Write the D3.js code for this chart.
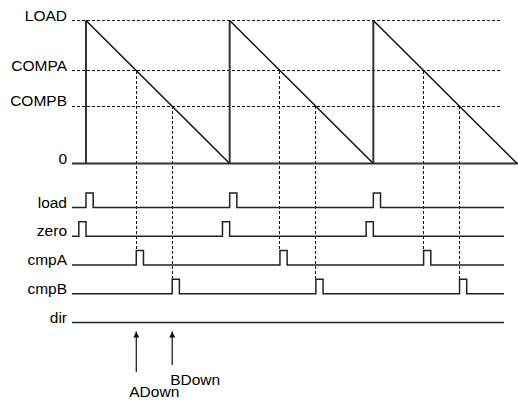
<!DOCTYPE html>
<html lang="en">
<head>
<meta charset="UTF-8">
<title>PWM counter timing</title>
<style>
  body { margin: 0; background: #fff; }
  text { font-family: "Liberation Sans", Arial, sans-serif; font-size: 15.5px; fill: #000; }
  .crisp { shape-rendering: crispEdges; }
</style>
</head>
<body>
<svg id="chart" width="518" height="402"></svg>
<script src="https://cdnjs.cloudflare.com/ajax/libs/d3/7.9.0/d3.min.js"></script>
<script>
// counter levels
const levelNames = ["LOAD", "COMPA", "COMPB", "0"];
const levelValues = [100, 65, 40, 0];

// counter period starts (counter reloads to LOAD, counts down to 0)
const periodStarts = [0, 1, 2];
const periodEnd = 3;

// event signals and when their pulses happen
const signalNames = ["load", "zero", "cmpA", "cmpB", "dir"];
const loadPulses = [0, 1, 2];
const zeroPulses = [0, 1, 2];
const cmpAPulses = [0.35, 1.35, 2.35];
const cmpBPulses = [0.6, 1.6, 2.6];
const dirPulses = [];

// annotations
const arrowNames = ["ADown", "BDown"];
const arrowTimes = [0.35, 0.6];

const svg = d3.select('#chart');

const x = d3.scaleLinear().domain([0, periodEnd]).range([86, 517]);
const y = d3.scaleLinear().domain([0, 100]).range([163.5, 20.5]);
const sy = d3.scalePoint().domain(signalNames).range([207.5, 322.5]);
const pulseW = 0.05;   // pulse length in periods
const pulseH = 14.5;

const valueAt = t => 100 * (1 - (t - Math.floor(t)));

// dashed level lines
levelNames.forEach((name, i) => {
    const v = levelValues[i];
    svg.append('text')
        .attr('x', 67).attr('y', y(v))
        .attr('text-anchor', 'end')
        .text(name);
    if (v > 0) {
        svg.append('line')
            .attr('class', 'crisp')
            .attr('x1', 72).attr('x2', 502)
            .attr('y1', y(v)).attr('y2', y(v))
            .attr('stroke', '#111').attr('stroke-width', 1)
            .attr('stroke-dasharray', '3,2');
    }
});

// vertical dashed lines from compare crossings down to the pulses
const crossings = [];
cmpAPulses.forEach(t => crossings.push({ t: t, sig: 'cmpA' }));
cmpBPulses.forEach(t => crossings.push({ t: t, sig: 'cmpB' }));
svg.selectAll('.vdash')
    .data(crossings)
    .enter().append('line')
    .attr('class', 'crisp')
    .attr('x1', d => x(d.t)).attr('x2', d => x(d.t))
    .attr('y1', d => y(valueAt(d.t)))
    .attr('y2', d => sy(d.sig) - pulseH)
    .attr('stroke', '#111').attr('stroke-width', 1)
    .attr('stroke-dasharray', '3,2');

// zero axis
svg.append('line')
    .attr('x1', 72).attr('x2', 518)
    .attr('y1', y(0)).attr('y2', y(0))
    .attr('stroke', '#333').attr('stroke-width', 2);

// counter: vertical reload + diagonal count down
periodStarts.forEach(t => {
    svg.append('line')
        .attr('x1', x(t)).attr('x2', x(t))
        .attr('y1', y(0)).attr('y2', y(100))
        .attr('stroke', '#333').attr('stroke-width', 2);
    svg.append('line')
        .attr('x1', x(t)).attr('x2', x(t + 1))
        .attr('y1', y(100)).attr('y2', y(0))
        .attr('stroke', '#111').attr('stroke-width', 1.5);
});

// digital signals
const pulsesBy = {
    load: loadPulses.map(t => [t, t + pulseW]),
    zero: zeroPulses.map(t => [t - pulseW, t]),
    cmpA: cmpAPulses.map(t => [t, t + pulseW]),
    cmpB: cmpBPulses.map(t => [t, t + pulseW]),
    dir: dirPulses.map(t => [t, t + pulseW])
};

signalNames.forEach(name => {
    const base = sy(name);
    svg.append('text')
        .attr('x', 67).attr('y', base)
        .attr('text-anchor', 'end')
        .text(name);
    let d = `M72,${base}`;
    pulsesBy[name].forEach(p => {
        d += `L${x(p[0])},${base}L${x(p[0])},${base - pulseH}L${x(p[1])},${base - pulseH}L${x(p[1])},${base}`;
    });
    d += `L504,${base}`;
    svg.append('path')
        .attr('d', d)
        .attr('fill', 'none')
        .attr('stroke', '#222').attr('stroke-width', 1.5);
});

// arrows
svg.append('defs').append('marker')
    .attr('id', 'head')
    .attr('viewBox', '0 0 10 10')
    .attr('refX', 10).attr('refY', 5)
    .attr('markerWidth', 5).attr('markerHeight', 5)
    .attr('markerUnits', 'strokeWidth')
    .attr('orient', 'auto')
    .append('path').attr('d', 'M0,0L10,5L0,10Z').attr('fill', '#111');

const arrowTails = [372, 365];
const labelDx = [-7, -2];
const labelY = [396.5, 385];
arrowNames.forEach((name, i) => {
    const ax = x(arrowTimes[i]);
    svg.append('line')
        .attr('x1', ax).attr('x2', ax)
        .attr('y1', arrowTails[i]).attr('y2', 331.5)
        .attr('stroke', '#111').attr('stroke-width', 1.2)
        .attr('marker-end', 'url(#head)');
    svg.append('text')
        .attr('x', ax + labelDx[i]).attr('y', labelY[i])
        .text(name);
});
</script>
</body>
</html>
